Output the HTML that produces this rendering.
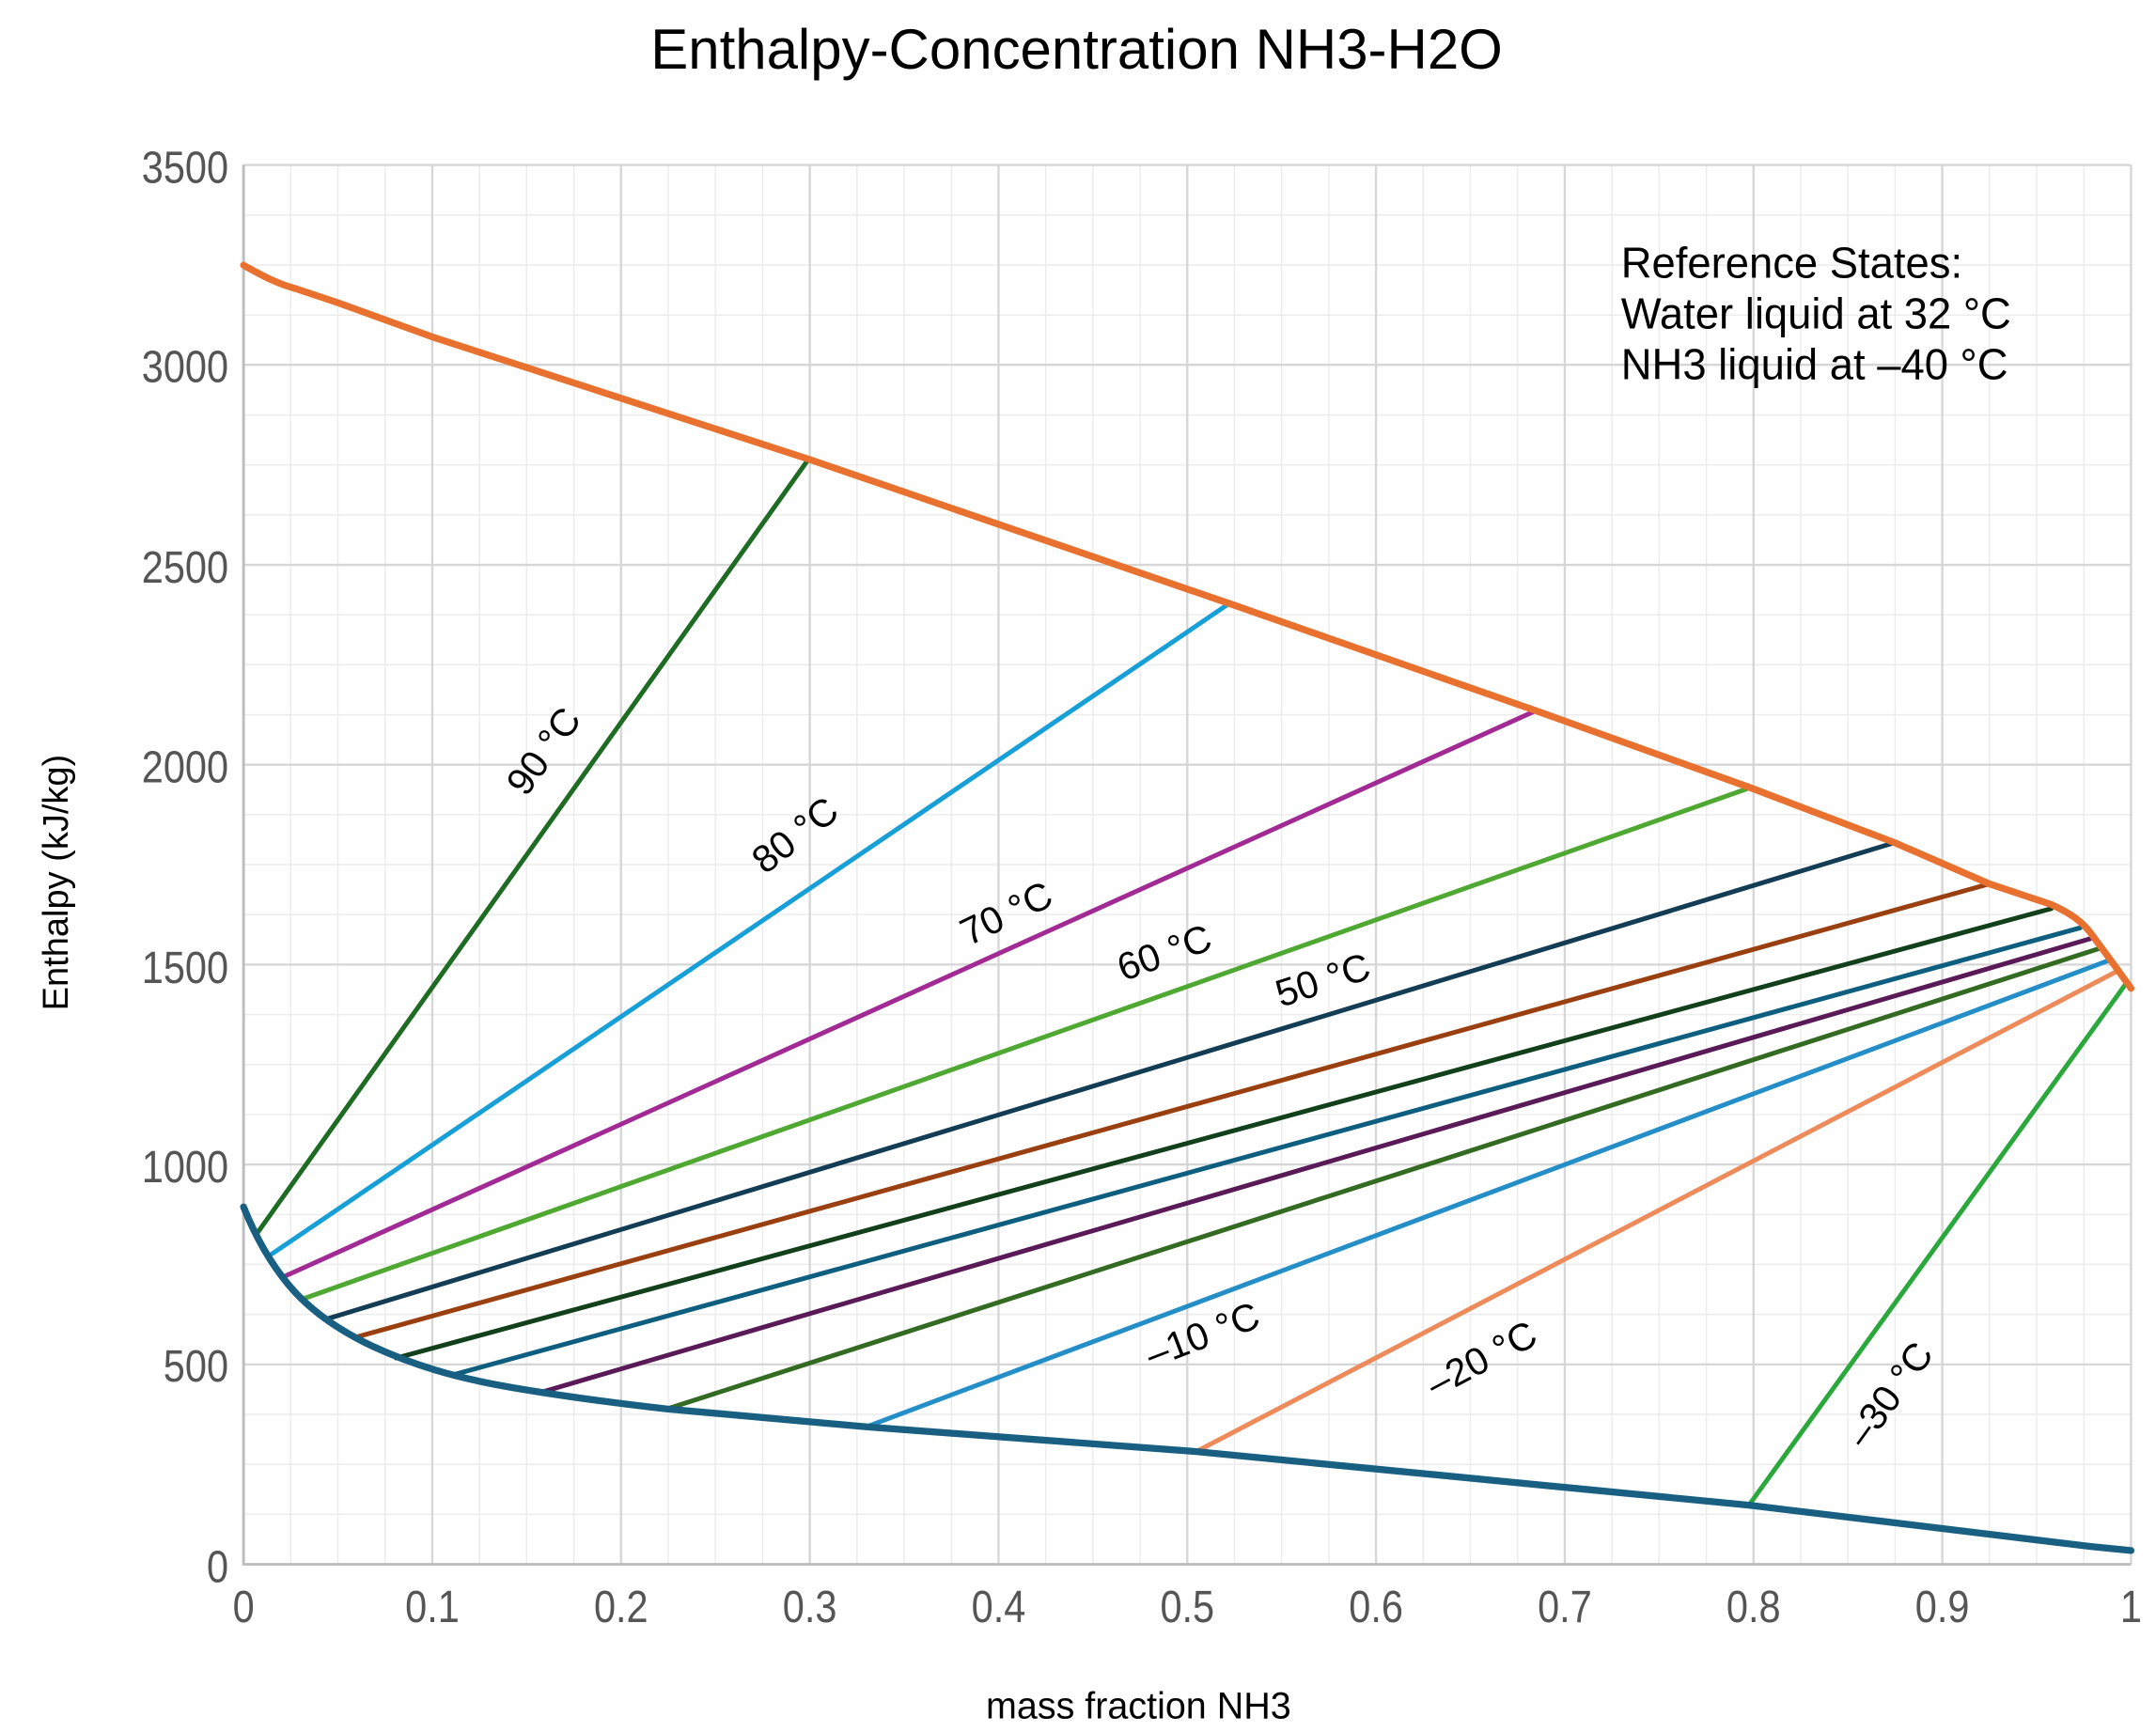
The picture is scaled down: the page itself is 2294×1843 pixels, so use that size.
<!DOCTYPE html>
<html><head><meta charset="utf-8"><style>html,body{margin:0;padding:0;background:#fff}svg{display:block}</style></head>
<body>
<svg width="2294" height="1843" viewBox="0 0 1568 1260" xmlns="http://www.w3.org/2000/svg" font-family="'Liberation Sans', sans-serif">
<rect width="1568" height="1260" fill="#fff"/>
<g id="grid">
<g stroke="#ececec" stroke-width="1">
<path d="M211.3 120V1138M245.6 120V1138M280 120V1138M348.6 120V1138M382.9 120V1138M417.3 120V1138M485.9 120V1138M520.2 120V1138M554.6 120V1138M623.2 120V1138M657.5 120V1138M691.9 120V1138M760.5 120V1138M794.8 120V1138M829.2 120V1138M897.8 120V1138M932.1 120V1138M966.5 120V1138M1035.1 120V1138M1069.4 120V1138M1103.8 120V1138M1172.4 120V1138M1206.7 120V1138M1241.1 120V1138M1309.7 120V1138M1344 120V1138M1378.4 120V1138M1447 120V1138M1481.3 120V1138M1515.7 120V1138"/>
<path d="M177 1101.6H1550M177 1065.3H1550M177 1028.9H1550M177 956.2H1550M177 919.8H1550M177 883.5H1550M177 810.8H1550M177 774.4H1550M177 738.1H1550M177 665.4H1550M177 629H1550M177 592.7H1550M177 520H1550M177 483.6H1550M177 447.3H1550M177 374.6H1550M177 338.2H1550M177 301.9H1550M177 229.2H1550M177 192.8H1550M177 156.5H1550"/>
</g>
<g stroke="#d6d6d6" stroke-width="1.6">
<path d="M314.3 120V1138M451.6 120V1138M588.9 120V1138M726.2 120V1138M863.5 120V1138M1000.8 120V1138M1138.1 120V1138M1275.4 120V1138M1412.7 120V1138M1550 120V1138"/>
<path d="M177 992.6H1550M177 847.1H1550M177 701.7H1550M177 556.3H1550M177 410.9H1550M177 265.4H1550M177 120H1550"/>
</g>
<path d="M177 120V1138H1550" stroke="#bdbdbd" stroke-width="2" fill="none"/>
</g>
<g fill="none" stroke-width="3.4" stroke-linecap="round">
<path d="M187 897L588 334" stroke="#1e6b23"/>
<path d="M198 912L894 439" stroke="#179fd8"/>
<path d="M208 928L1117 517" stroke="#a12a94"/>
<path d="M220 945L1273 573" stroke="#4ea832"/>
<path d="M236 960L1378 613" stroke="#123d55"/>
<path d="M258 973L1447 643" stroke="#9a3f10"/>
<path d="M288 988L1492 661" stroke="#12401a"/>
<path d="M330 1000L1513 675" stroke="#0e5e80"/>
<path d="M393 1013L1520 683" stroke="#5a1a58"/>
<path d="M485 1025L1527 690" stroke="#336b22"/>
<path d="M630 1038L1533 699" stroke="#238ec8"/>
<path d="M870 1056L1539 707" stroke="#ee8b5a"/>
<path d="M1272 1095L1546 716" stroke="#2aa83b"/>
</g>
<path d="M177 193 C190 200 200 206 215 210 L245 220 L314 245 L588 334 L894 439 L1117 517 L1273 573 L1378 613 L1447 643 L1492 658 C1505 664 1515 670 1523 682 C1532 694 1540 705 1550 719" fill="none" stroke="#e8712f" stroke-width="5" stroke-linecap="round" stroke-linejoin="round"/>
<path d="M177 878 C185 898 195 917 210 935 C225 953 245 967 270 979 C300 993 330 1002 370 1009 C410 1016 450 1021 485 1025 L630 1038 L870 1056 L1272 1095 L1520 1125 L1550 1128" fill="none" stroke="#185f82" stroke-width="5" stroke-linecap="round" stroke-linejoin="round"/>
<g font-size="28" fill="#000">
<text transform="translate(403,552) rotate(-54)" text-anchor="middle">90 °C</text>
<text transform="translate(584,615) rotate(-38)" text-anchor="middle">80 °C</text>
<text transform="translate(736,673) rotate(-26)" text-anchor="middle">70 °C</text>
<text transform="translate(850,702) rotate(-20)" text-anchor="middle">60 °C</text>
<text transform="translate(965,722) rotate(-18)" text-anchor="middle">50 °C</text>
<text transform="translate(878,980) rotate(-21)" text-anchor="middle">–10 °C</text>
<text transform="translate(1082,997) rotate(-28)" text-anchor="middle">–20 °C</text>
<text transform="translate(1382,1020) rotate(-54)" text-anchor="middle">–30 °C</text>
</g>
<g font-size="32" fill="#000" transform="translate(1179,0) scale(0.97,1)">
<text x="0" y="202">Reference States:</text>
<text x="0" y="239">Water liquid at 32 °C</text>
<text x="0" y="276">NH3 liquid at –40 °C</text>
</g>
<text x="783" y="50" font-size="41" text-anchor="middle" fill="#000">Enthalpy-Concentration NH3-H2O</text>
<g font-size="33" fill="#555" text-anchor="end" transform="translate(166,0) scale(0.86,1)">
<text x="0" y="1151">0</text>
<text x="0" y="1005">500</text>
<text x="0" y="860">1000</text>
<text x="0" y="715">1500</text>
<text x="0" y="569">2000</text>
<text x="0" y="424">2500</text>
<text x="0" y="278">3000</text>
<text x="0" y="133">3500</text>
</g>
<g font-size="33" fill="#555" text-anchor="middle">
<text transform="translate(177,1180) scale(0.86,1)">0</text>
<text transform="translate(314.3,1180) scale(0.86,1)">0.1</text>
<text transform="translate(451.6,1180) scale(0.86,1)">0.2</text>
<text transform="translate(588.9,1180) scale(0.86,1)">0.3</text>
<text transform="translate(726.2,1180) scale(0.86,1)">0.4</text>
<text transform="translate(863.5,1180) scale(0.86,1)">0.5</text>
<text transform="translate(1000.8,1180) scale(0.86,1)">0.6</text>
<text transform="translate(1138.1,1180) scale(0.86,1)">0.7</text>
<text transform="translate(1275.4,1180) scale(0.86,1)">0.8</text>
<text transform="translate(1412.7,1180) scale(0.86,1)">0.9</text>
<text transform="translate(1550,1180) scale(0.86,1)">1</text>
</g>
<text x="828" y="1250" font-size="27" text-anchor="middle" fill="#000">mass fraction NH3</text>
<text transform="translate(49,642) rotate(-90)" font-size="26" text-anchor="middle" fill="#000">Enthalpy (kJ/kg)</text>
</svg>
</body></html>
